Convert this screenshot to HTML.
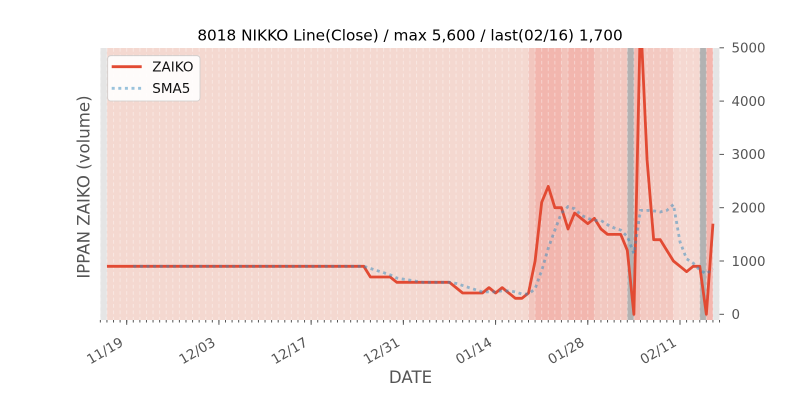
<!DOCTYPE html>
<html><head><meta charset="utf-8"><style>
html,body{margin:0;padding:0;background:#fff;}
svg{display:block;}
text{font-family:"DejaVu Sans","Liberation Sans",sans-serif;}
</style></head><body>
<svg width="800" height="400" viewBox="0 0 800 400" xmlns="http://www.w3.org/2000/svg">
<defs>
<clipPath id="c"><rect x="100.35" y="48" width="619.18" height="272"/></clipPath>
<pattern id="g" patternUnits="userSpaceOnUse" x="106.44" y="48" width="6.587" height="6.4"><rect x="0" y="0" width="1" height="3.7" fill="#fff" fill-opacity="0.38"/></pattern>
</defs>
<rect width="800" height="400" fill="#fff"/>
<text x="410" y="40.5" text-anchor="middle" font-size="15.3" fill="#000">8018 NIKKO Line(Close) / max 5,600 / last(02/16) 1,700</text>
<rect x="100.35" y="48" width="619.18" height="272" fill="#e5e5e5"/>
<g>
<rect x="106.94" y="48" width="421.87" height="272" fill="#f4d8d0"/>
<rect x="528.51" y="48" width="6.89" height="272" fill="#f2c6be"/>
<rect x="535.10" y="48" width="26.64" height="272" fill="#f2b6ae"/>
<rect x="561.44" y="48" width="6.89" height="272" fill="#f2c3bb"/>
<rect x="568.03" y="48" width="26.65" height="272" fill="#f2b6ae"/>
<rect x="594.38" y="48" width="33.23" height="272" fill="#f2c8c0"/>
<rect x="627.31" y="48" width="6.89" height="272" fill="#b2b2b2"/>
<rect x="633.90" y="48" width="6.89" height="272" fill="#f3bab2"/>
<rect x="640.49" y="48" width="33.23" height="272" fill="#f3c9c1"/>
<rect x="673.42" y="48" width="26.65" height="272" fill="#f5d8d1"/>
<rect x="699.77" y="48" width="6.89" height="272" fill="#b2b2b2"/>
<rect x="706.36" y="48" width="6.58" height="272" fill="#f4b6ae"/>
</g>
<rect x="100.35" y="48" width="619.18" height="272" fill="url(#g)"/>
<g clip-path="url(#c)">
<polyline fill="none" stroke="#E24A33" stroke-width="2.8" stroke-linejoin="round" points="106.94,266.33 363.83,266.33 370.42,276.99 390.18,276.99 396.77,282.32 449.46,282.32 456.05,287.65 462.64,292.98 482.40,292.98 488.99,287.65 495.57,292.98 502.16,287.65 508.75,292.98 515.33,298.31 521.92,298.31 528.51,292.98 535.10,261.0 541.68,202.37 548.27,186.38 554.86,207.7 561.44,207.7 568.03,229.02 574.62,213.03 581.20,218.36 587.79,223.69 594.38,218.36 600.97,229.02 607.55,234.35 614.14,234.35 620.73,234.35 627.31,250.34 633.90,314.3 640.49,15.82 647.07,159.73 653.66,239.68 660.25,239.68 666.83,250.34 673.42,261.0 680.01,266.33 686.60,271.66 693.18,266.33 699.77,266.33 706.36,314.3 712.94,223.69"/>
<polyline fill="none" stroke="#348ABD" stroke-opacity="0.5" stroke-width="2.8" stroke-dasharray="3 3.6" points="133.29,266.33 363.83,266.33 370.42,268.46 377.01,270.59 383.60,272.73 390.18,274.86 396.77,278.06 403.36,279.12 409.94,280.19 416.53,281.25 423.12,282.32 449.46,282.32 456.05,283.39 462.64,285.52 469.23,287.65 475.81,289.78 482.40,291.91 488.99,291.91 495.57,291.91 502.16,290.85 508.75,290.85 515.33,291.91 521.92,294.05 528.51,294.05 535.10,288.72 541.68,270.59 548.27,248.21 554.86,230.09 561.44,213.03 568.03,206.63 574.62,208.77 581.20,215.16 587.79,218.36 594.38,220.49 600.97,220.49 607.55,224.76 614.14,227.95 620.73,230.09 627.31,236.48 633.90,253.54 640.49,210.36 647.07,210.36 653.66,210.9 660.25,211.96 666.83,210.36 673.42,204.5 680.01,241.81 686.60,258.87 693.18,263.13 699.77,270.06 706.36,273.79 712.94,268.46"/>
</g>
<!-- legend -->
<rect x="107.7" y="55.7" width="92.3" height="45.3" rx="3" ry="3" fill="#fff" fill-opacity="0.88" stroke="#cccccc" stroke-width="0.8"/>
<line x1="111.7" y1="66.7" x2="141.7" y2="66.7" stroke="#E24A33" stroke-width="2.8"/>
<line x1="111.7" y1="88.3" x2="141.7" y2="88.3" stroke="#348ABD" stroke-opacity="0.5" stroke-width="2.8" stroke-dasharray="3 3.6"/>
<text x="152.3" y="71.5" font-size="13.5" fill="#111">ZAIKO</text>
<text x="152.3" y="92.8" font-size="13.5" fill="#111">SMA5</text>
<!-- x ticks -->
<line x1="99.85" y1="321.2" x2="720.03" y2="321.2" stroke="#555" stroke-width="2.5" stroke-dasharray="1 5.587"/>
<g stroke="#555" stroke-width="1">
<line x1="126.70" y1="320" x2="126.70" y2="324.8"/>
<line x1="218.92" y1="320" x2="218.92" y2="324.8"/>
<line x1="311.14" y1="320" x2="311.14" y2="324.8"/>
<line x1="403.36" y1="320" x2="403.36" y2="324.8"/>
<line x1="495.57" y1="320" x2="495.57" y2="324.8"/>
<line x1="587.79" y1="320" x2="587.79" y2="324.8"/>
<line x1="680.01" y1="320" x2="680.01" y2="324.8"/>
</g>
<g font-size="13.6" fill="#555" text-anchor="end">
<text x="124.2" y="345" transform="rotate(-30 124.2 345)">11/19</text>
<text x="216.42" y="345" transform="rotate(-30 216.42 345)">12/03</text>
<text x="308.64" y="345" transform="rotate(-30 308.64 345)">12/17</text>
<text x="400.86" y="345" transform="rotate(-30 400.86 345)">12/31</text>
<text x="493.07" y="345" transform="rotate(-30 493.07 345)">01/14</text>
<text x="585.29" y="345" transform="rotate(-30 585.29 345)">01/28</text>
<text x="677.51" y="345" transform="rotate(-30 677.51 345)">02/11</text>
</g>
<!-- y ticks right -->
<g stroke="#555" stroke-width="1">
<line x1="719.5" y1="47.8" x2="724" y2="47.8"/>
<line x1="719.5" y1="101.1" x2="724" y2="101.1"/>
<line x1="719.5" y1="154.4" x2="724" y2="154.4"/>
<line x1="719.5" y1="207.7" x2="724" y2="207.7"/>
<line x1="719.5" y1="261.0" x2="724" y2="261.0"/>
<line x1="719.5" y1="314.3" x2="724" y2="314.3"/>
</g>
<g font-size="13.4" fill="#555">
<text x="731.5" y="52.6">5000</text>
<text x="731.5" y="105.9">4000</text>
<text x="731.5" y="159.2">3000</text>
<text x="731.5" y="212.5">2000</text>
<text x="731.5" y="265.8">1000</text>
<text x="731.5" y="319.1">0</text>
</g>
<text transform="translate(89.5,187) rotate(-90)" text-anchor="middle" font-size="16.6" fill="#555">IPPAN ZAIKO (volume)</text>
<text x="410.5" y="383" text-anchor="middle" font-size="16.6" fill="#555">DATE</text>
</svg>
</body></html>
